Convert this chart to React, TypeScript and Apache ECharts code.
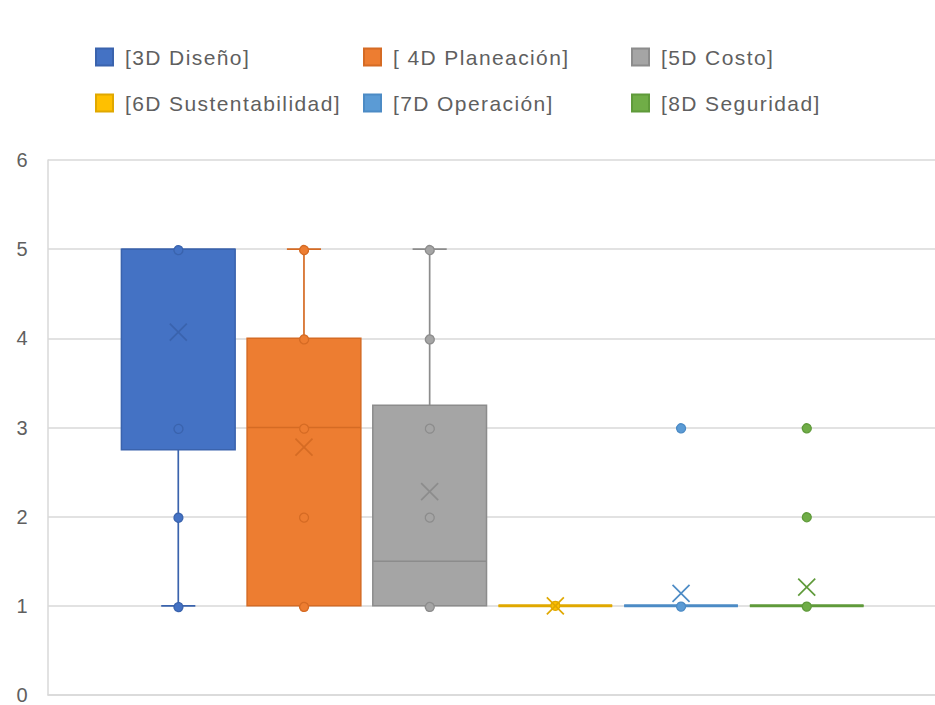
import React, { useEffect, useRef } from "react";
import * as echarts from "echarts";

// Box-and-whisker summary for each BIM dimension (scale 0–6)
const seriesNames = [
  "[3D Diseño]",
  "[ 4D Planeación]",
  "[5D Costo]",
  "[6D Sustentabilidad]",
  "[7D Operación]",
  "[8D Seguridad]",
];
const whiskerLow = [1, 1, 1, 1, 1, 1];
const quartile1 = [2.75, 1, 1, 1, 1, 1];
const medians = [5, 3, 1.5, 1, 1, 1];
const quartile3 = [5, 4, 3.25, 1, 1, 1];
const whiskerHigh = [5, 5, 5, 1, 1, 1];
const means = [4.07, 2.78, 2.28, 1, 1.14, 1.21];
const pointSets = [
  [5, 3, 2, 1],
  [5, 4, 3, 2, 1],
  [5, 4, 3, 2, 1],
  [1],
  [3, 1],
  [3, 2, 1],
];
const yTicks = [0, 1, 2, 3, 4, 5, 6];

const fills = ["#4472C4", "#ED7D31", "#A5A5A5", "#FFC000", "#5B9BD5", "#70AD47"];
const edges = ["#3A63AD", "#D56B24", "#8C8C8C", "#E0A800", "#4C8BC5", "#5F9A3A"];

const legendSpots = [
  { left: 95, top: 45 },
  { left: 363, top: 45 },
  { left: 631, top: 45 },
  { left: 95, top: 91 },
  { left: 363, top: 91 },
  { left: 631, top: 91 },
];

const FONT = "'Liberation Sans', Arial, sans-serif";
const TEXT_COLOR = "#5f5f5f";

export default function App() {
  const ref = useRef<HTMLDivElement>(null);

  useEffect(() => {
    if (!ref.current) return;
    const chart = echarts.init(ref.current, undefined, { renderer: "svg" });
    const n = seriesNames.length;

    const renderBox = (params: any, api: any) => {
      const i = params.seriesIndex;
      const band = api.size([1, 0])[0];
      const slot = band * 0.1417;
      const w = slot * 0.905;
      const cap = w * 0.3;
      const cx = api.coord([0, 0])[0] + (i - (n - 1) / 2) * slot + 1;
      const y = (v: number) => api.coord([0, v])[1];
      const low = api.value(1);
      const q1 = api.value(2);
      const med = api.value(3);
      const q3 = api.value(4);
      const high = api.value(5);
      const mean = api.value(6);
      const edge = edges[i];
      const fill = fills[i];
      const line = { stroke: edge, lineWidth: 1.7 };
      const children: any[] = [];

      if (high > q3) {
        children.push({ type: "line", shape: { x1: cx, y1: y(q3), x2: cx, y2: y(high) }, style: line });
        children.push({ type: "line", shape: { x1: cx - cap / 2, y1: y(high), x2: cx + cap / 2, y2: y(high) }, style: line });
      }
      if (low < q1) {
        children.push({ type: "line", shape: { x1: cx, y1: y(q1), x2: cx, y2: y(low) }, style: line });
        children.push({ type: "line", shape: { x1: cx - cap / 2, y1: y(low), x2: cx + cap / 2, y2: y(low) }, style: line });
      }
      children.push({
        type: "rect",
        shape: { x: cx - w / 2, y: y(q3), width: w, height: y(q1) - y(q3) },
        style: { fill, stroke: edge, lineWidth: 1.5 },
      });
      const flat = q1 === q3;
      children.push({
        type: "line",
        shape: { x1: cx - w / 2, y1: y(med), x2: cx + w / 2, y2: y(med) },
        style: { stroke: edge, lineWidth: flat ? 3 : 1.5 },
      });
      pointSets[i].forEach((p) => {
        children.push({
          type: "circle",
          shape: { cx, cy: y(p), r: 4.5 },
          style: { fill, stroke: edge, lineWidth: 1.3 },
        });
      });
      const m = 8.5;
      const my = y(mean);
      children.push({ type: "line", shape: { x1: cx - m, y1: my - m, x2: cx + m, y2: my + m }, style: line });
      children.push({ type: "line", shape: { x1: cx - m, y1: my + m, x2: cx + m, y2: my - m }, style: line });
      return { type: "group", children };
    };

    const series = seriesNames.map((name, i) => ({
      name,
      type: "custom",
      renderItem: renderBox,
      clip: false,
      itemStyle: { color: fills[i], borderColor: edges[i], borderWidth: 1 },
      encode: { x: 0, y: [1, 2, 3, 4, 5, 6] },
      data: [[0, whiskerLow[i], quartile1[i], medians[i], quartile3[i], whiskerHigh[i], means[i]]],
    }));

    const legends = seriesNames.map((name, i) => ({
      data: [name],
      left: legendSpots[i].left,
      top: legendSpots[i].top,
      padding: 0,
      icon: "rect",
      itemWidth: 17,
      itemHeight: 17,
      selectedMode: false,
      textStyle: {
        fontFamily: FONT,
        fontSize: 21,
        color: TEXT_COLOR,
        lineHeight: 24,
        padding: [0, 0, 0, 7],
      },
    }));

    chart.setOption({
      animation: false,
      backgroundColor: "#ffffff",
      legend: legends,
      grid: { left: 48, right: 0, top: 160, bottom: 9, containLabel: false },
      xAxis: {
        type: "category",
        data: [""],
        axisTick: { show: false },
        axisLabel: { show: false },
        axisLine: { show: true, lineStyle: { color: "#D9D9D9", width: 1.5 } },
        splitLine: { show: false },
      },
      yAxis: {
        type: "value",
        min: yTicks[0],
        max: yTicks[yTicks.length - 1],
        interval: 1,
        axisLine: { show: true, lineStyle: { color: "#D9D9D9", width: 1.5 } },
        axisTick: { show: false },
        axisLabel: { fontFamily: FONT, fontSize: 20, color: TEXT_COLOR, margin: 19 },
        splitLine: { lineStyle: { color: "#D9D9D9", width: 1.5 } },
      },
      series,
    });

    return () => chart.dispose();
  }, []);

  return (
    <>
      <style>{".boxchart svg text { letter-spacing: 1.4px; }"}</style>
      <div
        ref={ref}
        className="boxchart"
        style={{ position: "fixed", left: 0, top: 0, width: 935, height: 705, background: "#fff" }}
      />
    </>
  );
}
